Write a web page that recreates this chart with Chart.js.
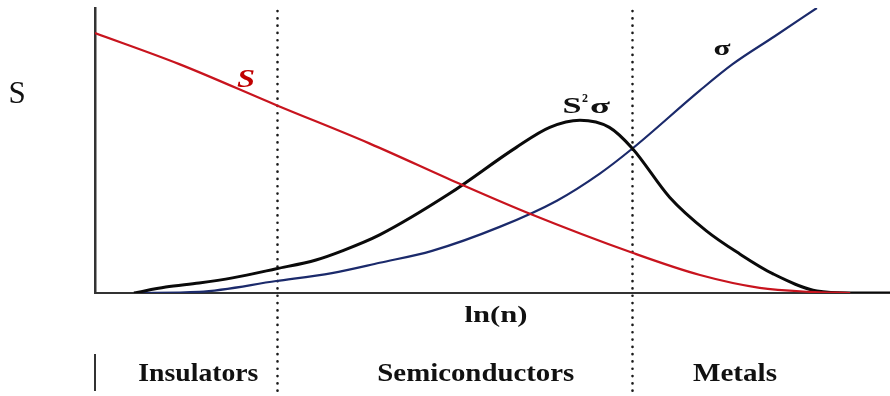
<!DOCTYPE html>
<html>
<head>
<meta charset="utf-8">
<script src="https://cdn.jsdelivr.net/npm/chart.js@4/dist/chart.umd.min.js"></script>
<style>
  html, body { margin: 0; padding: 0; background: #fff; }
  #wrap { width: 890px; height: 396px; position: relative; }
</style>
</head>
<body>
<div id="wrap"><canvas id="c"></canvas></div>
<script>
// Carrier concentration axis, ln(n), in arbitrary units
const seebeckX   = [0, 1.06, 2.29, 3.45, 4.58, 5.47, 6.76, 7.61, 8.36, 8.99, 9.5];
const seebeckY   = [9.12, 8.03, 6.58, 5.25, 3.84, 2.78, 1.41, 0.63, 0.18, 0.04, 0.0];

const powerX     = [0.49, 0.89, 1.31, 1.73, 2.28, 2.78, 3.11, 3.58, 4.46, 5.30, 5.72, 6.10, 6.47, 6.76, 7.23, 7.69, 8.11, 8.53, 9.08, 9.5, 10];
const powerY     = [0, 0.21, 0.35, 0.53, 0.85, 1.16, 1.48, 2.04, 3.49, 5.11, 5.81, 6.06, 5.81, 5.07, 3.35, 2.18, 1.37, 0.67, 0.07, 0.0, 0.0];

const sigmaX     = [0.52, 1.31, 2.28, 2.98, 3.58, 4.24, 5.09, 5.81, 6.35, 6.76, 7.61, 8.02, 8.55, 9.08];
const sigmaY     = [0, 0.04, 0.42, 0.70, 1.06, 1.48, 2.32, 3.24, 4.19, 5.07, 7.11, 8.03, 9.01, 10.0];

// Regime boundaries on the ln(n) axis
const boundaries = [2.29, 6.76];
const regimes    = [
  { name: 'Insulators',     at: 1.30, width: 120 },
  { name: 'Semiconductors', at: 4.79, width: 197 },
  { name: 'Metals',         at: 8.05, width: 84 }
];

const pts = (xs, ys) => xs.map((x, i) => ({ x, y: ys[i] }));

const SERIF = '"Liberation Serif", "DejaVu Serif", serif';

// draw text centred at cx, optionally stretched horizontally to a given width
function wideText(ctx, text, cx, baseline, font, width) {
  ctx.save();
  ctx.font = font;
  const w = ctx.measureText(text).width;
  const sx = width ? width / w : 1;
  ctx.translate(cx, baseline);
  ctx.scale(sx, 1);
  ctx.textAlign = 'center';
  ctx.fillText(text, 0, 0);
  ctx.restore();
}

const decorations = {
  id: 'decorations',
  beforeDatasetsDraw(chart) {
    const { ctx, scales: { x }, chartArea } = chart;
    ctx.save();
    // dotted regime boundaries
    ctx.strokeStyle = '#1a1a1a';
    ctx.lineWidth = 2.6;
    ctx.lineCap = 'round';
    ctx.setLineDash([0.1, 7.2]);
    boundaries.forEach(b => {
      const px = Math.round(x.getPixelForValue(b)) + 0.5;
      ctx.beginPath();
      ctx.moveTo(px, chartArea.top + 3);
      ctx.lineTo(px, chart.height);
      ctx.stroke();
    });
    ctx.restore();
  },
  afterDraw(chart) {
    const { ctx, scales: { x }, chartArea } = chart;
    ctx.save();
    ctx.textBaseline = 'alphabetic';

    // y-axis quantity
    ctx.fillStyle = '#111';
    wideText(ctx, 'S', 17, 103, '31px ' + SERIF);

    // x-axis title
    wideText(ctx, 'ln(n)', 496, 322, 'bold 23px ' + SERIF, 63);

    // regime names
    regimes.forEach(r => wideText(ctx, r.name, x.getPixelForValue(r.at), 381, 'bold 25px ' + SERIF, r.width));

    // short bracket under the origin
    ctx.strokeStyle = '#333';
    ctx.lineWidth = 2;
    ctx.beginPath();
    ctx.moveTo(chartArea.left, 354);
    ctx.lineTo(chartArea.left, 391);
    ctx.stroke();

    // curve labels
    ctx.fillStyle = '#c00000';
    wideText(ctx, 'S', 246, 87, 'bold italic 25px ' + SERIF, 18);

    ctx.fillStyle = '#111';
    wideText(ctx, 'S', 572, 113, 'bold 24px ' + SERIF, 19);
    wideText(ctx, '2', 585, 102, 'bold 12px ' + SERIF, 6);
    wideText(ctx, 'σ', 600, 113, 'bold 22px ' + SERIF, 20);
    wideText(ctx, 'σ', 722, 55, 'bold 22px ' + SERIF, 17);
    ctx.restore();
  }
};

new Chart(document.getElementById('c'), {
  type: 'line',
  data: {
    datasets: [
      { label: 'S',     data: pts(seebeckX, seebeckY), borderColor: '#c8141e', borderWidth: 2.2 },
      { label: 'S²σ',   data: pts(powerX, powerY),     borderColor: '#0a0a0a', borderWidth: 3 },
      { label: 'σ',     data: pts(sigmaX, sigmaY),     borderColor: '#1b2a6b', borderWidth: 2.2 }
    ]
  },
  options: {
    responsive: true,
    maintainAspectRatio: false,
    animation: false,
    devicePixelRatio: 1,
    elements: {
      point: { radius: 0, hoverRadius: 0 },
      line: { cubicInterpolationMode: 'monotone', fill: false }
    },
    layout: { padding: { left: 95, top: 8, right: 0, bottom: 103 } },
    plugins: { legend: { display: false }, tooltip: { enabled: false } },
    scales: {
      x: {
        type: 'linear', min: 0, max: 10,
        ticks: { display: false },
        grid: { display: false, drawTicks: false },
        border: { display: true, color: '#333', width: 2 }
      },
      y: {
        min: 0, max: 10,
        ticks: { display: false },
        grid: { display: false, drawTicks: false },
        border: { display: true, color: '#333', width: 2.5 }
      }
    }
  },
  plugins: [decorations]
});
</script>
</body>
</html>
